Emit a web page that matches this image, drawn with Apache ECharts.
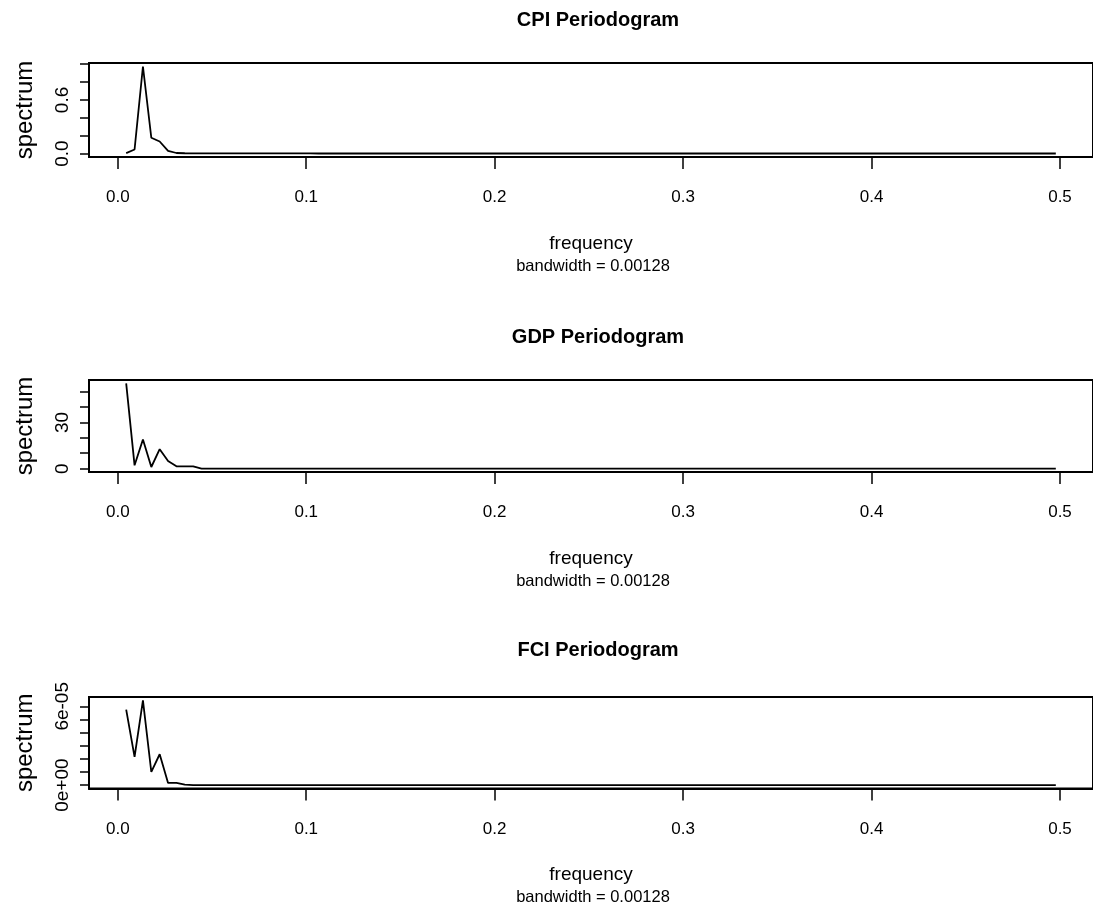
<!DOCTYPE html>
<html>
<head>
<meta charset="utf-8">
<title>Periodograms</title>
<script src="https://cdn.jsdelivr.net/npm/echarts@6/dist/echarts.min.js"></script>
<style>
  html, body { margin: 0; padding: 0; background: #fff; }
  #main { width: 1093px; height: 912px; }
</style>
</head>
<body>
<div id="main"></div>
<script>
// series length: the periodogram is taken at the Fourier frequencies k / N
const N = 225;

// raw periodogram ordinates (k = 1 .. 112)
const cpiSpec = [
  0.005, 0.045, 0.975, 0.177, 0.135, 0.030, 0.006,
  0.003, 0.002, 0.002, 0.0015, 0.0012, 0.001, 0.001, 0.001, 0.0009, 0.0009, 0.0008, 0.0008, 0.0008, 0.0007, 0.0007,
  0.0007, 0.0006, 0.0006, 0.0006, 0.0006, 0.0005, 0.0005, 0.0005, 0.0005, 0.0005, 0.0005, 0.0004, 0.0004, 0.0004, 0.0004,
  0.0004, 0.0004, 0.0004, 0.0004, 0.0003, 0.0003, 0.0003, 0.0003, 0.0003, 0.0003, 0.0003, 0.0003, 0.0003, 0.0003, 0.0003,
  0.0003, 0.0003, 0.0003, 0.0003, 0.0003, 0.0003, 0.0002, 0.0002, 0.0002, 0.0002, 0.0002, 0.0002, 0.0002, 0.0002, 0.0002,
  0.0002, 0.0002, 0.0002, 0.0002, 0.0002, 0.0002, 0.0002, 0.0002, 0.0002, 0.0002, 0.0002, 0.0002, 0.0002, 0.0002, 0.0002,
  0.0002, 0.0002, 0.0002, 0.0002, 0.0002, 0.0002, 0.0002, 0.0002, 0.0002, 0.0002, 0.0002, 0.0002, 0.0002, 0.0002, 0.0002,
  0.0002, 0.0002, 0.0002, 0.0002, 0.0002, 0.0002, 0.0002, 0.0002, 0.0002, 0.0002, 0.0002, 0.0002, 0.0002, 0.0002, 0.0002
];
const gdpSpec = [
  55.4, 2.15, 18.9, 1.05, 12.6, 5.0, 1.5, 1.5, 1.4, 0.05,
  0.04, 0.04, 0.03, 0.03, 0.03, 0.03, 0.02, 0.02, 0.02, 0.02, 0.02, 0.02, 0.02, 0.02, 0.02, 0.02, 0.02,
  0.02, 0.02, 0.02, 0.02, 0.02, 0.01, 0.01, 0.01, 0.01, 0.01, 0.01, 0.01, 0.01, 0.01, 0.01, 0.01, 0.01,
  0.01, 0.01, 0.01, 0.01, 0.01, 0.01, 0.01, 0.01, 0.01, 0.01, 0.01, 0.01, 0.01, 0.01, 0.01, 0.01, 0.01,
  0.01, 0.01, 0.01, 0.01, 0.01, 0.01, 0.01, 0.01, 0.01, 0.01, 0.01, 0.01, 0.01, 0.01, 0.01, 0.01, 0.01,
  0.01, 0.01, 0.01, 0.01, 0.01, 0.01, 0.01, 0.01, 0.01, 0.01, 0.01, 0.01, 0.01, 0.01, 0.01, 0.01, 0.01,
  0.01, 0.01, 0.01, 0.01, 0.01, 0.01, 0.01, 0.01, 0.01, 0.01, 0.01, 0.01, 0.01, 0.01, 0.01, 0.01, 0.01
];
const fciSpec = [
  5.75e-5, 2.15e-5, 6.45e-5, 1.0e-5, 2.35e-5, 0.17e-5, 0.17e-5, 0.03e-5,
  2e-8, 2e-8, 1e-8, 1e-8, 1e-8, 1e-8, 1e-8, 1e-8, 1e-8, 1e-8, 1e-8, 1e-8, 1e-8,
  1e-8, 1e-8, 1e-8, 1e-8, 1e-8, 5e-9, 5e-9, 5e-9, 5e-9, 5e-9, 5e-9, 5e-9, 5e-9,
  5e-9, 5e-9, 5e-9, 5e-9, 5e-9, 5e-9, 5e-9, 5e-9, 5e-9, 5e-9, 5e-9, 5e-9, 5e-9,
  5e-9, 5e-9, 5e-9, 5e-9, 5e-9, 5e-9, 5e-9, 5e-9, 5e-9, 5e-9, 5e-9, 5e-9, 5e-9,
  5e-9, 5e-9, 5e-9, 5e-9, 5e-9, 5e-9, 5e-9, 5e-9, 5e-9, 5e-9, 5e-9, 5e-9, 5e-9,
  5e-9, 5e-9, 5e-9, 5e-9, 5e-9, 5e-9, 5e-9, 5e-9, 5e-9, 5e-9, 5e-9, 5e-9, 5e-9,
  5e-9, 5e-9, 5e-9, 5e-9, 5e-9, 5e-9, 5e-9, 5e-9, 5e-9, 5e-9, 5e-9, 5e-9, 5e-9,
  5e-9, 5e-9, 5e-9, 5e-9, 5e-9, 5e-9, 5e-9, 5e-9, 5e-9, 5e-9, 5e-9, 5e-9, 5e-9
];

// tick marks and the labels R kept after dropping overlapping ones
const xTicks = [0, 0.1, 0.2, 0.3, 0.4, 0.5];
const cpiTicks = [0, 0.2, 0.4, 0.6, 0.8, 1.0];
const cpiLabels = [0, 0.6];
const gdpTicks = [0, 10, 20, 30, 40, 50];
const gdpLabels = [0, 30];
const fciTicks = [0, 1e-5, 2e-5, 3e-5, 4e-5, 5e-5, 6e-5];
const fciLabels = [0, 6e-5];

const titles = ['CPI Periodogram', 'GDP Periodogram', 'FCI Periodogram'];
const subText = 'bandwidth = 0.00128';

const freq = cpiSpec.map((_, i) => (i + 1) / N);

const FONT = '"Liberation Sans", Arial, Helvetica, sans-serif';

// R pads the data range by 4% on each side
function padRange(arr) {
  let lo = Math.min.apply(null, arr), hi = Math.max.apply(null, arr);
  let p = 0.04 * (hi - lo);
  return [lo - p, hi + p];
}

function sci(v) {
  if (v === 0) return '0e+00';
  let e = Math.floor(Math.log10(Math.abs(v)) + 1e-9);
  let m = Math.round(v / Math.pow(10, e));
  return m + 'e' + (e < 0 ? '-' : '+') + String(Math.abs(e)).padStart(2, '0');
}

const panels = [
  { data: cpiSpec, ticks: cpiTicks, labels: cpiLabels, fmt: v => v.toFixed(1), top: 63, height: 94, titleTop: 5 },
  { data: gdpSpec, ticks: gdpTicks, labels: gdpLabels, fmt: v => String(v), top: 380, height: 92, titleTop: 322 },
  { data: fciSpec, ticks: fciTicks, labels: fciLabels, fmt: sci, top: 697, height: 91.5, titleTop: 635 }
];

const xRange = padRange(freq);
const gridLeft = 89, gridWidth = 1008;
const centerX = gridLeft + gridWidth / 2;

var chart = echarts.init(document.getElementById('main'), null, { renderer: 'canvas' });

var option = {
  animation: false,
  backgroundColor: '#fff',
  textStyle: { fontFamily: FONT, color: '#000' },
  title: [],
  grid: [],
  xAxis: [],
  yAxis: [],
  series: [],
  graphic: []
};

panels.forEach(function (p, i) {
  let bottom = p.top + p.height;
  let yRange = padRange(p.data);

  option.title.push({
    text: titles[i],
    left: centerX,
    top: p.titleTop,
    textAlign: 'center',
    textStyle: { fontFamily: FONT, fontSize: 20, fontWeight: 'bold', color: '#000' }
  });

  option.grid.push({
    left: gridLeft,
    top: p.top,
    width: gridWidth,
    height: p.height,
    show: true,
    borderColor: '#000',
    borderWidth: 2,
    backgroundColor: 'transparent'
  });

  option.xAxis.push({
    gridIndex: i,
    type: 'value',
    min: xRange[0],
    max: xRange[1],
    name: 'frequency',
    nameLocation: 'middle',
    nameGap: 77,
    nameTextStyle: { fontFamily: FONT, fontSize: 19, color: '#000' },
    axisLine: { show: true, onZero: false, lineStyle: { color: '#000', width: 2 } },
    axisTick: { show: true, inside: false, length: 12, customValues: xTicks, lineStyle: { color: '#000', width: 1.5 } },
    axisLabel: {
      customValues: xTicks,
      margin: 32,
      fontFamily: FONT, fontSize: 17, color: '#000',
      formatter: v => v.toFixed(1)
    },
    splitLine: { show: false }
  });

  option.yAxis.push({
    gridIndex: i,
    type: 'value',
    min: yRange[0],
    max: yRange[1],
    name: 'spectrum',
    nameLocation: 'middle',
    nameGap: 52,
    nameTextStyle: { fontFamily: FONT, fontSize: 24, color: '#000' },
    axisLine: { show: true, onZero: false, lineStyle: { color: '#000', width: 2 } },
    axisTick: { show: true, inside: false, length: 9, customValues: p.ticks, lineStyle: { color: '#000', width: 1.5 } },
    axisLabel: {
      customValues: p.labels,
      rotate: 90,
      margin: 17,
      fontFamily: FONT, fontSize: 19, color: '#000',
      formatter: p.fmt
    },
    splitLine: { show: false }
  });

  option.series.push({
    type: 'line',
    xAxisIndex: i,
    yAxisIndex: i,
    data: freq.map((f, k) => [f, p.data[k]]),
    showSymbol: false,
    symbol: 'none',
    lineStyle: { color: '#000', width: 1.8 },
    silent: true
  });

  option.graphic.push({
    type: 'text',
    x: centerX,
    y: bottom + 109,
    style: {
      text: subText,
      fontFamily: FONT,
      fontSize: 16.5,
      fill: '#000',
      align: 'center',
      verticalAlign: 'middle'
    }
  });
});

chart.setOption(option);
</script>
</body>
</html>
